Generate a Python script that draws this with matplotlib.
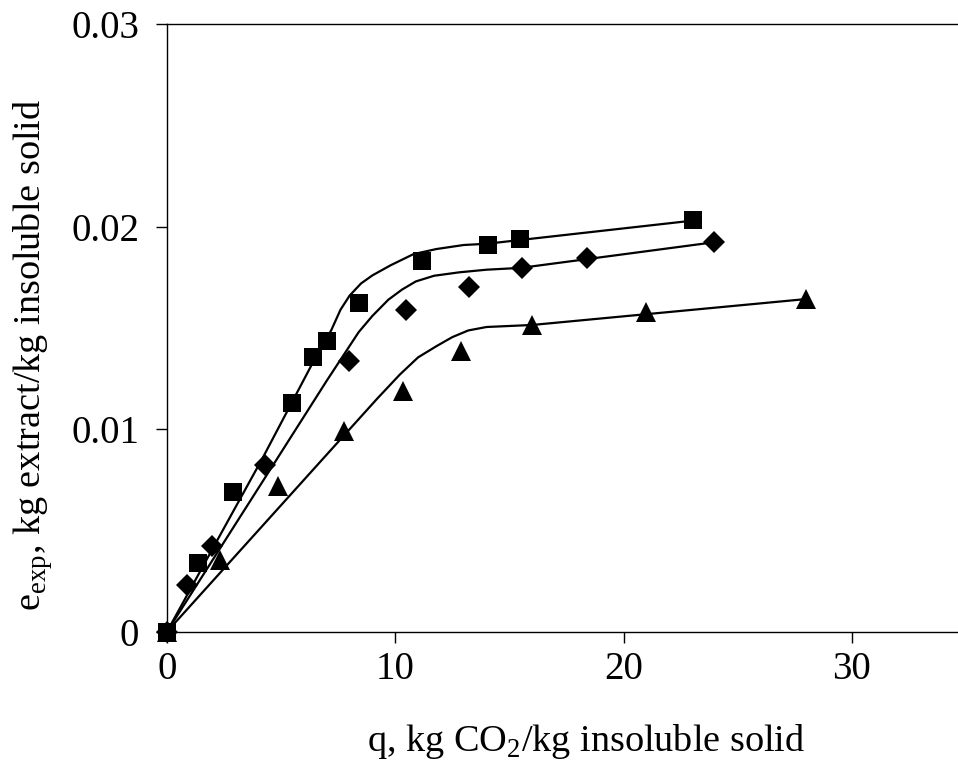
import matplotlib.pyplot as plt

plt.rcParams['font.family'] = 'Liberation Serif'
plt.rcParams['mathtext.fontset'] = 'custom'
plt.rcParams['mathtext.rm'] = 'Liberation Serif'

# experimental points
q_sq = [0, 1.37, 2.9, 5.48, 6.39, 7.02, 8.41, 11.15, 14.07, 15.46, 23.03]
e_sq = [0, 0.00339, 0.0069, 0.01129, 0.01357, 0.01434, 0.01623, 0.01832, 0.01911, 0.01941, 0.02031]

q_di = [0, 0.86, 1.96, 4.29, 7.99, 10.47, 13.23, 15.54, 18.38, 23.97]
e_di = [0, 0.00232, 0.00421, 0.00825, 0.01338, 0.0159, 0.01705, 0.01796, 0.01845, 0.01924]

q_tr = [0, 2.32, 4.88, 7.77, 10.35, 12.89, 15.99, 20.98, 27.99]
e_tr = [0, 0.00352, 0.00718, 0.00989, 0.01187, 0.01384, 0.01513, 0.01577, 0.01643]

# model curves
q_fit_sq = [0, 2.0, 4.2, 6.3, 7.2, 7.6, 8.0, 8.5, 9.0, 9.8, 10.8, 11.8, 13.0, 14.0, 15.5, 23.0]
e_fit_sq = [0, 0.0041, 0.0086, 0.0131, 0.0149, 0.0159, 0.0166, 0.0172, 0.0176, 0.0181,
            0.01865, 0.0189, 0.0191, 0.01916, 0.01935, 0.0203]

q_fit_di = [0, 4.8, 7.0, 8.4, 9.0, 9.7, 10.3, 10.9, 11.7, 12.8, 14.0, 15.5, 24.0]
e_fit_di = [0, 0.0085, 0.0124, 0.0148, 0.0156, 0.0164, 0.0169, 0.0173, 0.01758, 0.01775,
            0.01788, 0.01797, 0.01924]

q_fit_tr = [0, 9.2, 10.2, 11.0, 11.8, 12.5, 13.2, 14.0, 15.0, 16.0, 28.0]
e_fit_tr = [0, 0.0115, 0.0127, 0.01355, 0.0141, 0.01455, 0.01488, 0.01505, 0.0151, 0.01515, 0.01643]

fig = plt.figure(figsize=(9.58, 7.67), dpi=100)
ax = fig.add_axes([0.1743, 0.1764, 0.834, 0.7919])

for qf, ef in [(q_fit_sq, e_fit_sq), (q_fit_di, e_fit_di), (q_fit_tr, e_fit_tr)]:
    ax.plot(qf, ef, color='black', lw=1.6, zorder=2)

ax.plot(q_di, e_di, 'D', color='black', ms=11, mew=0, zorder=3, clip_on=False)
ax.plot(q_tr, e_tr, '^', color='black', ms=14, mew=0, zorder=3, clip_on=False)
ax.plot(q_sq, e_sq, 's', color='black', ms=13.5, mew=0, zorder=4, clip_on=False)

ax.set_xlim(0, 35)
ax.set_ylim(0, 0.03)
ax.set_xticks([0, 10, 20, 30])
ax.set_yticks([0, 0.01, 0.02, 0.03])
ax.set_yticklabels(['0', '0.01', '0.02', '0.03'])
ax.tick_params(direction='out', length=8, width=1, labelsize=28, pad=6)
ax.tick_params(axis='y', pad=12)
for s in ax.spines.values():
    s.set_linewidth(1)

fig.text(33 / 958, 1 - 355 / 767, r'e$_{\mathrm{exp}}$, kg extract/kg insoluble solid',
         rotation=90, ha='center', va='center', fontsize=27.5)
fig.text(586 / 958, 16 / 767, r'q, kg CO$_{\mathrm{2}}$/kg insoluble solid',
         ha='center', va='baseline', fontsize=27.5)

fig.savefig('out.png', dpi=100)
